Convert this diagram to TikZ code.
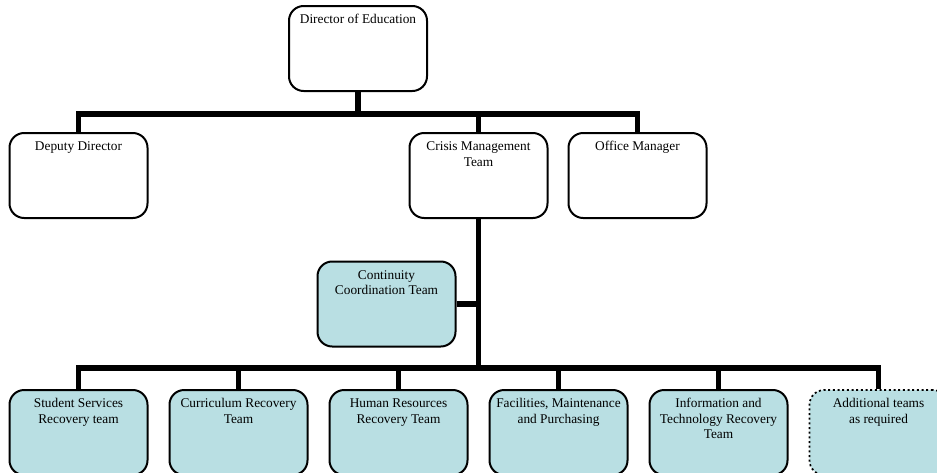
\documentclass[tikz,border=0pt]{standalone}
\usepackage{fontspec}
\setmainfont{Liberation Serif}
\definecolor{teamfill}{RGB}{185,223,227}
\newcommand{\boxtext}[1]{\parbox[c][63.75pt][t]{100pt}{\fontsize{10}{11.6}\selectfont\centering\rule{0pt}{13.2pt}#1\par}}
\tikzset{
  orgbox/.style={draw=black, line width=1.5pt, rounded corners=11pt, fill=white,
    inner sep=0pt, minimum width=103.5pt, minimum height=63.75pt},
  teambox/.style={orgbox, fill=teamfill},
  extrabox/.style={teambox, dotted, line width=1.3pt},
  conn/.style={line width=4.3pt, line join=miter, line cap=butt},
}
\begin{document}
\begin{tikzpicture}[x=0.75pt, y=-0.75pt]
\clip (0,0) rectangle (937,472);
\fill[white] (0,0) rectangle (937,472);
% connectors first (drawn under boxes)
\coordinate (tb) at (358,114);
\coordinate (bb) at (478.5,368);
% boxes
\node[orgbox] (dir) at (358,48.5) {\boxtext{Director of Education}};
\node[orgbox] (dep) at (78.5,175.5) {\boxtext{Deputy Director}};
\node[orgbox] (cri) at (478.5,175.5) {\boxtext{Crisis Management Team}};
\node[orgbox] (off) at (637.5,175.5) {\boxtext{Office Manager}};
\node[teambox] (con) at (386.5,304) {\boxtext{Continuity\\ Coordination Team}};
\node[teambox] (b1) at (78.5,432.5) {\boxtext{Student Services\\ Recovery team}};
\node[teambox] (b2) at (238.5,432.5) {\boxtext{Curriculum Recovery Team}};
\node[teambox] (b3) at (398.5,432.5) {\boxtext{Human Resources\\ Recovery Team}};
\node[teambox] (b4) at (558.5,432.5) {\boxtext{Facilities, Maintenance and Purchasing}};
\node[teambox] (b5) at (718.5,432.5) {\boxtext{Information and Technology Recovery Team}};
\node[extrabox] (b6) at (878.5,432.5) {\boxtext{Additional teams\\ as required}};
% top level
\draw[conn] (dir.south) -- (tb);
\draw[conn] (dep.north) |- (tb) -| (off.north);
\draw[conn] (cri.north) -- (cri.north |- tb);
% lower level
\draw[conn] (cri.south) -- (bb);
\draw[conn] (con.east) -- (con.east -| bb);
\draw[conn] (b1.north) |- (bb) -| (b6.north);
\draw[conn] (b2.north) -- (b2.north |- bb);
\draw[conn] (b3.north) -- (b3.north |- bb);
\draw[conn] (b4.north) -- (b4.north |- bb);
\draw[conn] (b5.north) -- (b5.north |- bb);
\end{tikzpicture}
\end{document}
